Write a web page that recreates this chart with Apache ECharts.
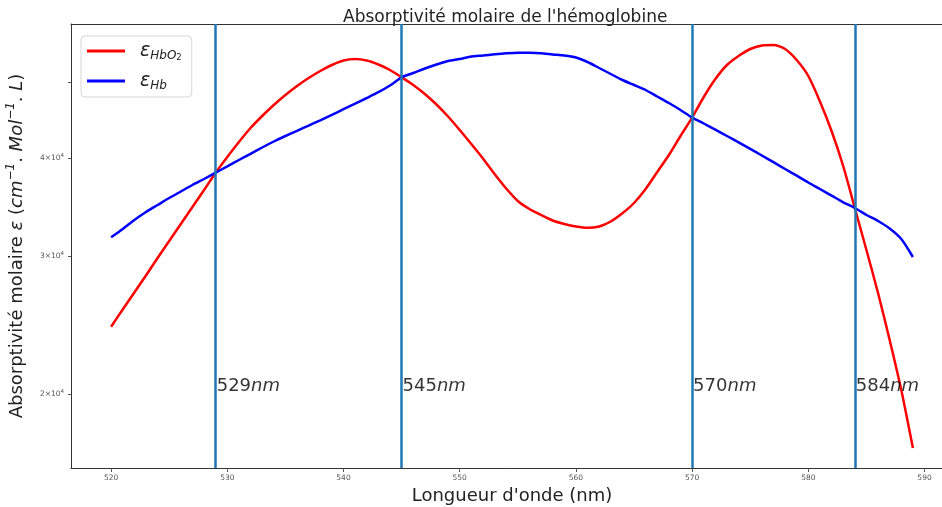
<!DOCTYPE html>
<html>
<head>
<meta charset="utf-8">
<script src="https://cdn.jsdelivr.net/npm/echarts@6/dist/echarts.min.js"></script>
<style>
  html, body { margin: 0; padding: 0; background: #fff; }
  #chart { width: 942px; height: 507px; }
</style>
</head>
<body>
<div id="chart"></div>
<script>
// Wavelengths (nm)
const wavelengths = [
  520, 521, 522, 523, 524, 525, 526, 527, 528, 529,
  530, 531, 532, 533, 534, 535, 536, 537, 538, 539,
  540, 541, 542, 543, 544, 545, 546, 547, 548, 549,
  550, 551, 552, 553, 554, 555, 556, 557, 558, 559,
  560, 561, 562, 563, 564, 565, 566, 567, 568, 569,
  570, 571, 572, 573, 574, 575, 576, 577, 578, 579,
  580, 581, 582, 583, 584, 585, 586, 587, 588, 589
];

// Molar absorptivity of oxyhaemoglobin (cm^-1 . Mol^-1 . L)
const epsHbO2 = [
  24370, 25634, 26946, 28326, 29820, 31347, 32952, 34639, 36412, 38310,
  40118, 41924, 43684, 45251, 46737, 48130, 49419, 50594, 51645, 52563,
  53263, 53498, 53263, 52641, 51797, 50699, 49565, 48272, 46806, 45185,
  43429, 41679, 39941, 38164, 36572, 35254, 34436, 33834, 33292, 32952,
  32711, 32586, 32711, 33194, 34003, 35048, 36519, 38388, 40354, 42670,
  45039, 47849, 50446, 52563, 53971, 55092, 55662, 55744, 55092, 53341,
  50891, 47220, 43301, 39071, 34537, 30529, 26907, 23438, 20237, 17067
];

// Molar absorptivity of deoxyhaemoglobin (cm^-1 . Mol^-1 . L)
const epsHb = [
  31689, 32471, 33341, 34134, 34843, 35566, 36252, 36950, 37607, 38310,
  39037, 39766, 40497, 41253, 41986, 42670, 43327, 43993, 44683, 45411,
  46164, 46930, 47708, 48528, 49492, 50699, 51343, 52026, 52641, 53185,
  53498, 53892, 54050, 54242, 54401, 54497, 54481, 54401, 54210, 54050,
  53734, 53028, 52102, 51193, 50298, 49565, 48842, 47919, 47013, 46056,
  45039, 44266, 43467, 42670, 41876, 41084, 40295, 39510, 38728, 37985,
  37223, 36519, 35818, 35120, 34537, 33834, 33244, 32519, 31531, 29908
];

// Isosbestic wavelengths (nm)
const isosbestic = [529, 545, 570, 584];

// Axis ticks
const xTicks = [520, 530, 540, 550, 560, 570, 580, 590];
const yTickLabels = [20000, 30000, 40000];
const yTicks = [20000, 30000, 40000, 50000];

const FONT = 'DejaVu Sans';
const X_MIN = 516.55, X_MAX = 592.45;

const chart = echarts.init(document.getElementById('chart'), null, { renderer: 'canvas' });

function sciLabel(v) {
  const exp = Math.floor(Math.log10(v) + 1e-9);
  const mant = Math.round(v / Math.pow(10, exp));
  return '{m|' + mant + '×10}{e|' + exp + '}';
}

const option = {
  animation: false,
  backgroundColor: '#ffffff',
  title: {
    text: "Absorptivité molaire de l'hémoglobine",
    left: 338,
    top: 4,
    textStyle: { fontFamily: FONT, fontSize: 17, fontWeight: 'normal', color: '#222' }
  },
  legend: {
    data: ['HbO2', 'Hb'],
    orient: 'vertical',
    left: 81,
    top: 36,
    padding: [4, 10, 5, 6],
    itemGap: 8,
    itemWidth: 38,
    itemHeight: 3,
    icon: 'rect',
    borderColor: '#d6d6d6',
    borderWidth: 1,
    borderRadius: 4,
    backgroundColor: '#fff',
    formatter: function (name) {
      return name === 'HbO2'
        ? '{e|ε}{s|HbO}{t|2}'
        : '{e|ε}{s|Hb}';
    },
    textStyle: {
      fontFamily: FONT,
      color: '#222',
      lineHeight: 22,
      rich: {
        e: { fontFamily: FONT, fontSize: 19, fontStyle: 'italic', color: '#222', padding: [0, 0, 0, 10], lineHeight: 22, verticalAlign: 'middle' },
        s: { fontFamily: FONT, fontSize: 12, fontStyle: 'italic', color: '#222', lineHeight: 22, verticalAlign: 'bottom', padding: [6, 0, 0, 0] },
        t: { fontFamily: FONT, fontSize: 8.5, color: '#222', lineHeight: 22, verticalAlign: 'bottom', padding: [9, 0, 0, 0] }
      }
    }
  },
  grid: {
    left: 71,
    top: 24,
    width: 882,
    height: 444,
    show: false,
    outerBoundsMode: 'none',
    containLabel: false
  },
  xAxis: [
    {
      type: 'value',
      min: X_MIN,
      max: X_MAX,
      axisLine: { show: true, onZero: false, lineStyle: { color: '#333', width: 1 } },
      axisTick: { show: true, customValues: xTicks, length: 4, lineStyle: { color: '#555' } },
      axisLabel: {
        customValues: xTicks,
        fontFamily: FONT, fontSize: 7.5, color: '#555', margin: 6
      },
      splitLine: { show: false },
      name: "Longueur d'onde (nm)",
      nameLocation: 'middle',
      nameGap: 15,
      nameTextStyle: { fontFamily: FONT, fontSize: 18, color: '#222' }
    },
    {
      // top spine of the plot frame
      type: 'value',
      position: 'top',
      min: X_MIN,
      max: X_MAX,
      axisLine: { show: true, onZero: false, lineStyle: { color: '#333', width: 1 } },
      axisTick: { show: false },
      axisLabel: { show: false },
      splitLine: { show: false }
    }
  ],
  yAxis: {
    type: 'log',
    logBase: 10,
    min: 16093,
    max: 59290,
    axisLine: { show: true, lineStyle: { color: '#333', width: 1 } },
    axisTick: { show: true, customValues: yTicks, length: 3, lineStyle: { color: '#555' } },
    axisLabel: {
      customValues: yTickLabels,
      margin: 7,
      formatter: function (v) { return sciLabel(v); },
      rich: {
        m: { fontFamily: FONT, fontSize: 7.5, color: '#555' },
        e: { fontFamily: FONT, fontSize: 5.5, color: '#555', verticalAlign: 'top', padding: [0, 0, 5, 0] }
      }
    },
    splitLine: { show: false },
    minorTick: { show: false },
    name: 'Absorptivité molaire {i|ε} ({i|cm}{s|−1}. {i|Mol}{s|−1}. {i|L})',
    nameLocation: 'middle',
    nameRotate: 90,
    nameGap: 39,
    nameTextStyle: {
      fontFamily: FONT, fontSize: 18, color: '#222', lineHeight: 24,
      rich: {
        i: { fontFamily: FONT, fontSize: 18, fontStyle: 'italic', color: '#222', lineHeight: 24 },
        s: { fontFamily: FONT, fontSize: 12, fontStyle: 'italic', color: '#222', lineHeight: 24, verticalAlign: 'top', padding: [0, 0, 9, 0] }
      }
    }
  },
  series: [
    {
      name: 'HbO2',
      type: 'line',
      data: wavelengths.map((w, i) => [w, epsHbO2[i]]),
      symbol: 'none',
      smooth: 0.25,
      color: '#ff0000',
      lineStyle: { color: '#ff0000', width: 2.5 },
      z: 3
    },
    {
      name: 'Hb',
      type: 'line',
      data: wavelengths.map((w, i) => [w, epsHb[i]]),
      symbol: 'none',
      smooth: 0.25,
      color: '#0000ff',
      lineStyle: { color: '#0000ff', width: 2.5 },
      z: 3
    },
    {
      name: 'isosbestic',
      type: 'line',
      data: [],
      z: 4,
      markLine: {
        silent: true,
        symbol: ['none', 'none'],
        animation: false,
        lineStyle: { color: '#1f77b4', width: 2.5, type: 'solid' },
        label: { show: false },
        data: isosbestic.map(v => ({ xAxis: v }))
      }
    },
    {
      name: 'isosbesticLabels',
      type: 'scatter',
      data: isosbestic.map(v => [v, 20470]),
      symbolSize: 0,
      silent: true,
      z: 5,
      label: {
        show: true,
        position: 'right',
        distance: 1,
        formatter: p => '{n|' + p.value[0] + '}{u|nm}',
        rich: {
          n: { fontFamily: FONT, fontSize: 18, color: '#000' },
          u: { fontFamily: FONT, fontSize: 18, fontStyle: 'italic', color: '#000' }
        }
      }
    }
  ]
};

chart.setOption(option);
</script>
</body>
</html>
